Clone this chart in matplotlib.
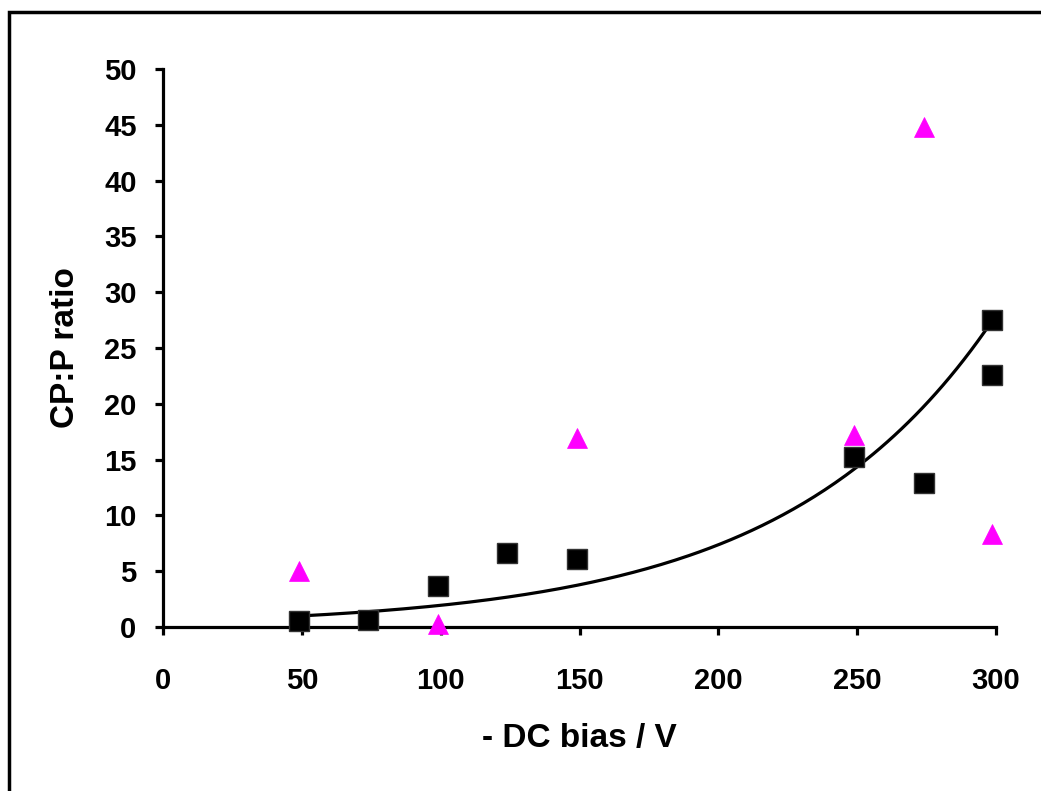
import numpy as np
import matplotlib
matplotlib.use("Agg")
import matplotlib.pyplot as plt
from matplotlib.patches import Rectangle

# Data
sq_x = [49, 74, 99, 124, 149, 249, 274, 298.5, 298.5]
sq_y = [0.5, 0.6, 3.7, 6.6, 6.1, 15.2, 12.9, 27.5, 22.6]
tri_x = [49, 99, 149, 249, 274, 298.5]
tri_y = [5.0, 0.3, 16.9, 17.2, 44.8, 8.3]
x_ticks = [0, 50, 100, 150, 200, 250, 300]
y_ticks = [0, 5, 10, 15, 20, 25, 30, 35, 40, 45, 50]

plt.rcParams['font.family'] = ['Liberation Sans', 'DejaVu Sans']
plt.rcParams['font.weight'] = 'bold'

fig = plt.figure(figsize=(10.41, 7.91), dpi=100)
ax = fig.add_axes([163/1041, 1-627/791, (996-163)/1041, (627-69)/791])

# Exponential trendline fitted to the square series (like Excel)
lx = np.array(sq_x, float)
ly = np.log(np.array(sq_y, float))
b, lna = np.polyfit(lx, ly, 1)
xf = np.linspace(min(sq_x), max(sq_x), 200)
ax.plot(xf, np.exp(lna) * np.exp(b * xf), color='black', lw=2.3, zorder=2)

ax.plot(sq_x, sq_y, linestyle='none', marker='s', markersize=14.5,
        markerfacecolor='black', markeredgecolor='#333333', markeredgewidth=1.0, zorder=3)
ax.plot(tri_x, tri_y, linestyle='none', marker='^', markersize=14,
        markerfacecolor='#FF00FF', markeredgecolor='#FF00FF', markeredgewidth=0.5, zorder=3)

ax.set_xlim(0, 300)
ax.set_ylim(0, 50)
ax.set_xticks(x_ticks)
ax.set_yticks(y_ticks)
for s in ['top', 'right']:
    ax.spines[s].set_visible(False)
for s in ['left', 'bottom']:
    ax.spines[s].set_linewidth(2.3)
ax.tick_params(axis='both', direction='out', length=6, width=2.3, labelsize=21)
ax.tick_params(axis='y', pad=13)
ax.tick_params(axis='x', pad=23)
for lab in ax.get_xticklabels() + ax.get_yticklabels():
    lab.set_fontweight('bold')

ax.set_xlabel('- DC bias / V', fontsize=24, fontweight='bold', labelpad=20)
ax.set_ylabel('CP:P ratio', fontsize=24, fontweight='bold', labelpad=17)
for ln in ax.lines:
    ln.set_clip_on(False)

# Outer frame
fig.patches.append(Rectangle((8.5/1041, -0.05), 1.2, 1 - 11.5/791 + 0.05,
                             transform=fig.transFigure, fill=False,
                             edgecolor='black', lw=2.5))

fig.savefig('out.png', dpi=100)
